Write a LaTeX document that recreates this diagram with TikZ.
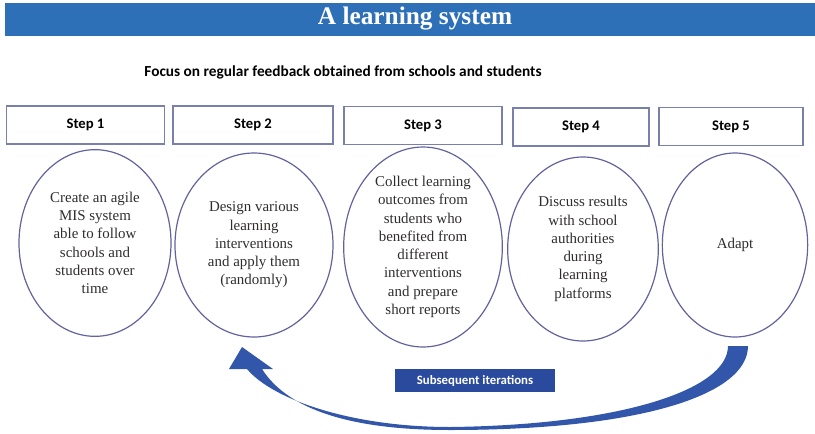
\documentclass[tikz,border=0pt]{standalone}
\usepackage{fontspec}
\setmainfont{Liberation Serif}
\newfontfamily\calibri{Carlito}
\usetikzlibrary{shapes.geometric}
\definecolor{barblue}{RGB}{45, 112, 184}
\definecolor{loopblue}{RGB}{50, 86, 170}
\definecolor{tagblue}{RGB}{42, 74, 158}
\definecolor{boxline}{RGB}{122, 128, 172}
\definecolor{ovalline}{RGB}{98, 98, 158}
\definecolor{inktext}{RGB}{48, 44, 44}

\begin{document}
\begin{tikzpicture}[x=0.75pt, y=-0.75pt,
    stepbox/.style={draw=boxline, line width=0.9pt, minimum height=28.5pt,
                    inner sep=0pt, font=\calibri\bfseries\fontsize{11}{13}\selectfont},
    oval/.style={draw=ovalline, line width=0.9pt, ellipse, inner sep=0pt,
                 align=center, text=inktext, font=\fontsize{11.2}{13.7}\selectfont}]
  \useasboundingbox (0,0) rectangle (815,433);

  % title bar
  \fill[barblue] (5,3) rectangle (815,36);
  \node[text=white, font=\bfseries\fontsize{19}{22}\selectfont] (title) at (415,19) {A learning system};
  \node[font=\calibri\bfseries\fontsize{11.5}{13}\selectfont] (focus) at (343,72)
       {Focus on regular feedback obtained from schools and students};

  % steps
  \node[stepbox, minimum width=119pt]   (s1) at (85.5,125) {Step 1};
  \node[stepbox, minimum width=120pt]   (s2) at (253,125)  {Step 2};
  \node[stepbox, minimum width=118.5pt] (s3) at (423,125.5) {Step 3};
  \node[stepbox, minimum width=102pt]   (s4) at (581,127)  {Step 4};
  \node[stepbox, minimum width=108pt]   (s5) at (731,126.5) {Step 5};

  \node[oval, minimum width=114pt, minimum height=140pt]   (e1) at (95,243)
       {Create an agile\\MIS system\\able to follow\\schools and\\students over\\time};
  \node[oval, minimum width=118.5pt, minimum height=138pt] (e2) at (254,245)
       {Design various\\learning\\interventions\\and apply them\\(randomly)};
  \node[oval, minimum width=119pt, minimum height=139.5pt] (e3) at (423,247)
       {Collect learning\\outcomes from\\students who\\benefited from\\different\\interventions\\and prepare\\short reports};
  \node[oval, minimum width=113pt, minimum height=138pt]   (e4) at (583,249)
       {Discuss results\\with school\\authorities\\during\\learning\\platforms};
  \node[oval, minimum width=109pt, minimum height=138pt]   (e5) at (735,245) {Adapt};

  % loop back arrow
  \coordinate (tailR) at (748,346);
  \coordinate (tailL) at (728,346);
  \coordinate (tip) at (242,347);
  \fill[loopblue] (tailR) .. controls (748,395) and (640,430) .. (450,430)
        .. controls (340,430) and (285,405) .. (262,369) -- (273,369) -- (tip)
        -- (229,369) -- (247,369) .. controls (272,399) and (350,427) .. (450,427)
        .. controls (620,425) and (728,390) .. (tailL) -- cycle;

  \node[fill=tagblue, text=white, minimum width=120pt, minimum height=17pt, inner sep=0pt,
        font=\calibri\bfseries\fontsize{9.6}{11}\selectfont] (iter) at (475,380.5) {Subsequent iterations};
\end{tikzpicture}
\end{document}
